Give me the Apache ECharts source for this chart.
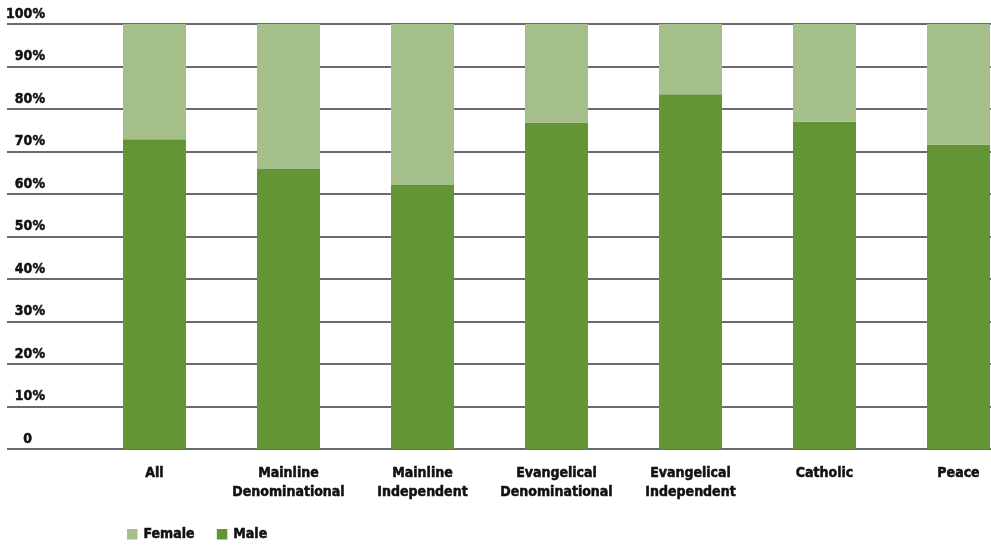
<!DOCTYPE html>
<html>
<head>
<meta charset="utf-8">
<script src="https://cdn.jsdelivr.net/npm/echarts@6/dist/echarts.min.js"></script>
<style>
  html, body { margin: 0; padding: 0; background: #ffffff; }
  #chart { width: 991px; height: 546px; }
</style>
</head>
<body>
<div id="chart"></div>
<script>
// Share of leaders by gender, per congregation type (percent)
const categories = ['All', 'Mainline\nDenominational', 'Mainline\nIndependent', 'Evangelical\nDenominational', 'Evangelical\nIndependent', 'Catholic', 'Peace'];
const maleValues = [72.9, 65.9, 62.1, 76.8, 83.5, 77.0, 71.6];
const femaleValues = [27.1, 34.1, 37.9, 23.2, 16.5, 23.0, 28.4];
const yTicks = [0, 10, 20, 30, 40, 50, 60, 70, 80, 90, 100];

const FONT = '"Liberation Sans Narrow", "DejaVu Sans Condensed", "Roboto", sans-serif';
const MALE_COLOR = '#639537';
const FEMALE_COLOR = '#A5BF8A';
const TEXT_COLOR = '#111111';
const FONT_SIZE = 14;

// heavy condensed lettering used by every label
const heavyText = {
  fontFamily: FONT,
  fontWeight: 'bold',
  fontSize: FONT_SIZE,
  color: TEXT_COLOR,
  textBorderColor: TEXT_COLOR,
  textBorderWidth: 0.5
};

const chart = echarts.init(document.getElementById('chart'), null, { renderer: 'canvas' });

chart.setOption({
  backgroundColor: '#ffffff',
  animation: false,
  textStyle: { fontFamily: FONT },
  legend: {
    data: ['Female', 'Male'],
    left: 122,
    top: 522,
    icon: 'rect',
    itemWidth: 10.5,
    itemHeight: 10.5,
    itemGap: 22,
    textStyle: Object.assign({}, heavyText, { padding: [0, 0, 0, 1] })
  },
  grid: [
    // gridlines and percentage labels span the full width
    { left: 7, right: 0, top: 24, bottom: 97, outerBoundsMode: 'none' },
    // bars sit in their own band layout, running past the right edge
    { left: 87.5, right: -34.5, top: 24, bottom: 97, outerBoundsMode: 'none' }
  ],
  xAxis: [
    { gridIndex: 0, type: 'value', min: 0, max: 1, show: false },
    {
      gridIndex: 1,
      type: 'category',
      data: categories,
      axisLine: { show: false },
      axisTick: { show: false },
      axisLabel: Object.assign({}, heavyText, {
        interval: 0,
        margin: 15,
        lineHeight: 19
      })
    }
  ],
  yAxis: [
    {
      gridIndex: 0,
      type: 'value',
      min: yTicks[0],
      max: yTicks[yTicks.length - 1],
      interval: yTicks[1] - yTicks[0],
      axisLine: { show: false },
      axisTick: { show: false },
      splitLine: { show: true, lineStyle: { color: '#3a3a3a', width: 1.5 } },
      axisLabel: Object.assign({}, heavyText, {
        inside: true,
        margin: 38,
        align: 'right',
        verticalAlign: 'bottom',
        padding: [0, 0, 3, 0],
        formatter: v => v === 0 ? '{z|0}' : v + '%',
        rich: {
          z: Object.assign({}, heavyText, { padding: [0, 13, 0, 0] })
        }
      })
    },
    {
      gridIndex: 1,
      type: 'value',
      min: 0,
      max: 100,
      show: false,
      splitLine: { show: false }
    }
  ],
  series: [
    {
      name: 'Male',
      type: 'bar',
      xAxisIndex: 1,
      yAxisIndex: 1,
      stack: 'gender',
      barWidth: 63,
      itemStyle: { color: MALE_COLOR },
      data: maleValues
    },
    {
      name: 'Female',
      type: 'bar',
      xAxisIndex: 1,
      yAxisIndex: 1,
      stack: 'gender',
      barWidth: 63,
      itemStyle: { color: FEMALE_COLOR },
      data: femaleValues
    }
  ]
});
</script>
</body>
</html>
